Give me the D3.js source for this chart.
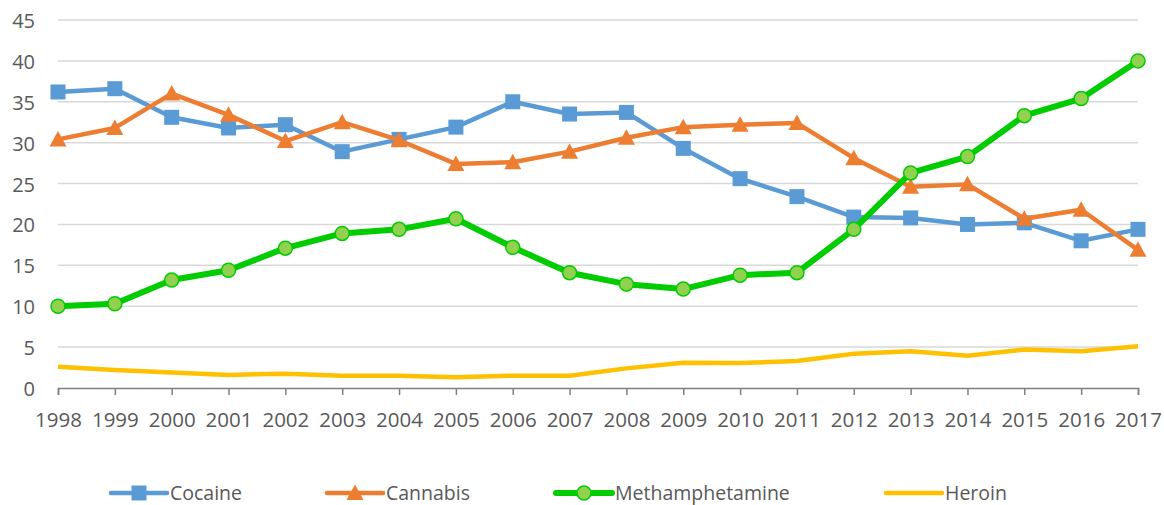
<!DOCTYPE html>
<html>
<head>
<meta charset="utf-8">
<script src="https://cdn.jsdelivr.net/npm/d3@7"></script>
<style>
  body { margin: 0; background: #fff; }
  text { font-family: "Open Sans", sans-serif; fill: #595959; }
</style>
</head>
<body>
<div id="chart"></div>
<script>
// data
var years = [1998, 1999, 2000, 2001, 2002, 2003, 2004, 2005, 2006, 2007,
             2008, 2009, 2010, 2011, 2012, 2013, 2014, 2015, 2016, 2017];
var cocaine = [36.2, 36.6, 33.1, 31.8, 32.2, 28.9, 30.4, 31.9, 35.0, 33.5,
               33.7, 29.3, 25.6, 23.4, 20.9, 20.8, 20.0, 20.2, 18.0, 19.4];
var cannabis = [30.4, 31.8, 36.0, 33.4, 30.2, 32.5, 30.3, 27.4, 27.6, 28.9,
                30.6, 31.9, 32.2, 32.4, 28.1, 24.6, 24.9, 20.7, 21.8, 16.9];
var meth = [10.0, 10.3, 13.2, 14.4, 17.1, 18.9, 19.4, 20.7, 17.2, 14.1,
            12.7, 12.1, 13.8, 14.1, 19.4, 26.3, 28.3, 33.3, 35.4, 40.0];
var heroin = [2.6, 2.2, 1.9, 1.6, 1.75, 1.5, 1.5, 1.3, 1.5, 1.5,
              2.4, 3.1, 3.05, 3.3, 4.2, 4.5, 3.95, 4.7, 4.5, 5.1];
var yTicks = [0, 5, 10, 15, 20, 25, 30, 35, 40, 45];

var series = [
  { name: "Cocaine", values: cocaine, color: "#5b9bd5", marker: "square", width: 4.5 },
  { name: "Cannabis", values: cannabis, color: "#ed7d31", marker: "triangle", width: 4.5 },
  { name: "Methamphetamine", values: meth, color: "#00cc00", marker: "circle", width: 6 },
  { name: "Heroin", values: heroin, color: "#ffc000", marker: "none", width: 4.5 }
];

var W = 1164, H = 505;
var margin = { left: 58, right: 26, top: 20, bottom: 117 };
var width = W - margin.left - margin.right,
    height = H - margin.top - margin.bottom;

var svg = d3.select("#chart").append("svg")
  .attr("width", W).attr("height", H);
var g = svg.append("g")
  .attr("transform", "translate(" + margin.left + "," + margin.top + ")");

var x = d3.scalePoint().domain(years).range([0, width]);
var y = d3.scaleLinear().domain([0, 45]).range([height, 0]);

// grid lines
g.selectAll(".grid").data(yTicks.filter(d => d > 0)).enter()
  .append("line")
  .attr("x1", 0).attr("x2", width)
  .attr("y1", d => y(d)).attr("y2", d => y(d))
  .attr("stroke", "#d9d9d9").attr("stroke-width", 1.5);

// y axis labels
g.selectAll(".ylab").data(yTicks).enter()
  .append("text")
  .attr("x", -23).attr("y", d => y(d) + 1)
  .attr("dy", "0.35em")
  .attr("text-anchor", "end")
  .style("font-size", "20px")
  .text(d => d);

// x axis
var xAxis = d3.axisBottom(x).tickSize(7).tickPadding(17);
var xAxisG = g.append("g")
  .attr("transform", "translate(0," + height + ")")
  .call(xAxis);
xAxisG.select(".domain").attr("stroke", "#7f7f7f").attr("stroke-width", 1.5);
xAxisG.selectAll(".tick line").attr("stroke", "#7f7f7f").attr("stroke-width", 1.5);
xAxisG.selectAll(".tick text")
  .style("font-size", "20.5px").attr("fill", "#595959")
  .style("font-family", "'Open Sans', sans-serif");

var line = d3.line()
  .x((d, i) => x(years[i]))
  .y(d => y(d));

function drawMarker(sel, type, color) {
  if (type === "square") {
    sel.append("rect")
      .attr("x", -7.5).attr("y", -7.5).attr("width", 15).attr("height", 15)
      .attr("fill", color);
  } else if (type === "triangle") {
    sel.append("path")
      .attr("d", "M0,-8.5L8.5,7L-8.5,7Z")
      .attr("fill", color);
  } else if (type === "circle") {
    sel.append("circle")
      .attr("r", 7)
      .attr("fill", "#92d050")
      .attr("stroke", color).attr("stroke-width", 1.5);
  }
}

series.forEach(function(s) {
  var sg = g.append("g");
  sg.append("path")
    .datum(s.values)
    .attr("d", line)
    .attr("fill", "none")
    .attr("stroke", s.color)
    .attr("stroke-width", s.width)
    .attr("stroke-linejoin", "round");
  if (s.marker !== "none") {
    sg.selectAll(".m").data(s.values).enter()
      .append("g")
      .attr("transform", (d, i) => "translate(" + x(years[i]) + "," + y(d) + ")")
      .each(function() { drawMarker(d3.select(this), s.marker, s.color); });
  }
});

// legend
var legendX = [111, 327, 556, 886];
var legend = svg.append("g").attr("transform", "translate(0,493)");
series.forEach(function(s, i) {
  var lg = legend.append("g").attr("transform", "translate(" + legendX[i] + ",0)");
  lg.append("line")
    .attr("x1", 0).attr("x2", 56).attr("y1", 0).attr("y2", 0)
    .attr("stroke", s.color).attr("stroke-width", s.width)
    .attr("stroke-linecap", "round");
  if (s.marker !== "none") {
    var mg = lg.append("g").attr("transform", "translate(28,0)");
    drawMarker(mg, s.marker, s.color);
  }
  lg.append("text")
    .attr("x", 59).attr("y", 7)
    .style("font-size", "19.5px")
    .text(s.name);
});
</script>
</body>
</html>
